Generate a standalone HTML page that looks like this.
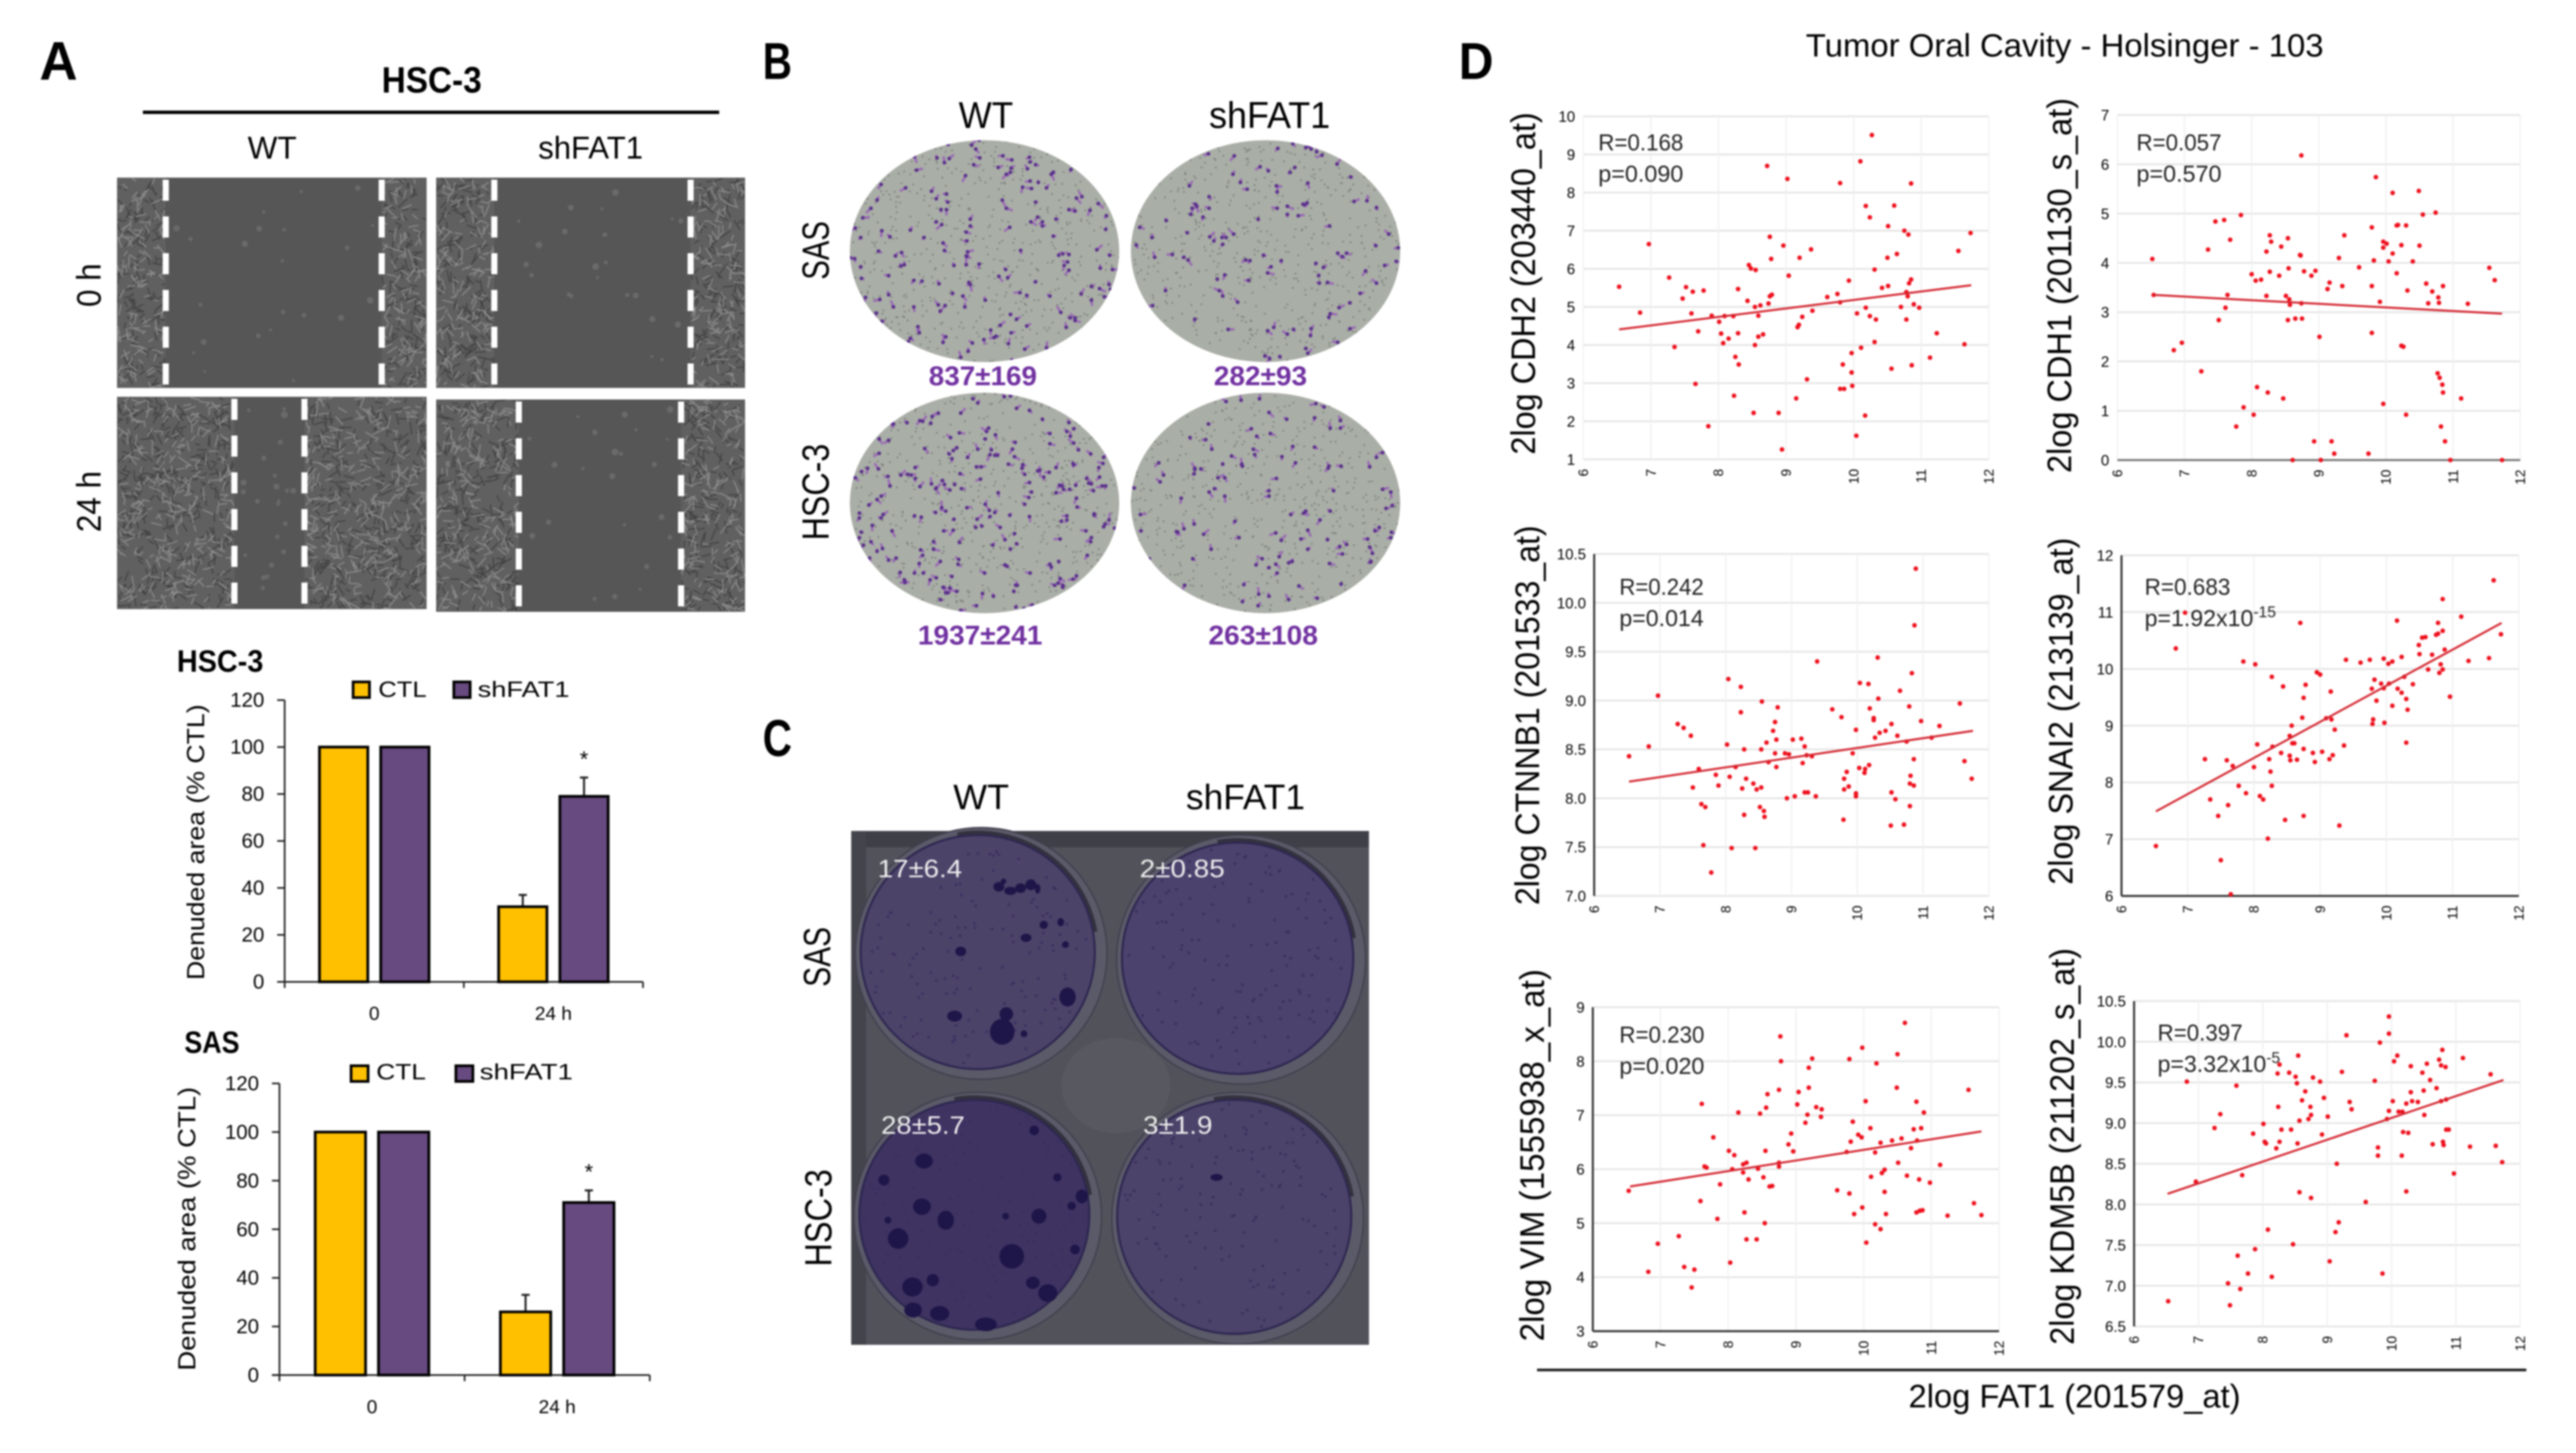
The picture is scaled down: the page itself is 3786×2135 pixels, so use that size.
<!DOCTYPE html>
<html lang="en">
<head>
<meta charset="utf-8">
<title>FAT1 knockdown migration, invasion and correlation figure</title>
<style>
html,body{margin:0;padding:0;background:#fff}
svg{display:block;filter:blur(1.2px)}
text{font-family:"Liberation Sans",sans-serif;fill:#000}
.b{font-weight:700}
.rp{font-size:34px;fill:#222}
.num{font-weight:700;font-size:40px;fill:#7030A0}
.plate{font-size:37px;fill:#eee}
</style>
</head>
<body>
<svg id="fig" width="3786" height="2135" viewBox="0 0 3786 2135">
<defs>
<clipPath id="clipB1"><ellipse cx="1447" cy="369" rx="198" ry="163"/></clipPath>
<clipPath id="clipB2"><ellipse cx="1860" cy="369" rx="198" ry="163"/></clipPath>
<clipPath id="clipB3"><ellipse cx="1447" cy="739" rx="198" ry="162"/></clipPath>
<clipPath id="clipB4"><ellipse cx="1860" cy="739" rx="198" ry="162"/></clipPath>
</defs>
<rect x="0" y="0" width="3786" height="2135" fill="#fff"/>

<!-- Panel letters -->
<text class="b" x="58" y="117" font-size="80" textLength="56" lengthAdjust="spacingAndGlyphs">A</text>
<text class="b" x="1121" y="116" font-size="76" textLength="43" lengthAdjust="spacingAndGlyphs">B</text>
<text class="b" x="1121" y="1111" font-size="76" textLength="43" lengthAdjust="spacingAndGlyphs">C</text>
<text class="b" x="2144" y="116" font-size="76" textLength="51" lengthAdjust="spacingAndGlyphs">D</text>

<!-- Panel A headings -->
<text class="b" x="561" y="136" font-size="54" textLength="147" lengthAdjust="spacingAndGlyphs">HSC-3</text>
<rect x="210" y="162.500" width="847" height="5" fill="#000"/>
<text x="364" y="233" font-size="46" textLength="72" lengthAdjust="spacingAndGlyphs">WT</text>
<text x="791" y="233" font-size="46" textLength="154" lengthAdjust="spacingAndGlyphs">shFAT1</text>
<text transform="translate(148 451) rotate(-90)" font-size="50" textLength="64" lengthAdjust="spacingAndGlyphs">0 h</text>
<text transform="translate(148 782) rotate(-90)" font-size="50" textLength="90" lengthAdjust="spacingAndGlyphs">24 h</text>
<g id="woundPanels"></g>

<!-- Bar chart 1 static labels -->
<text class="b" x="260" y="987" font-size="45" textLength="127" lengthAdjust="spacingAndGlyphs">HSC-3</text>
<rect x="519" y="1002" width="24" height="23" fill="#FFC000" stroke="#000" stroke-width="4"/>
<text x="556" y="1024" font-size="32" fill="#333" textLength="71" lengthAdjust="spacingAndGlyphs">CTL</text>
<rect x="667" y="1002" width="24" height="23" fill="#674A7F" stroke="#000" stroke-width="4"/>
<text x="702" y="1024" font-size="32" textLength="135" lengthAdjust="spacingAndGlyphs">shFAT1</text>
<text transform="translate(300 1440) rotate(-90)" font-size="36" textLength="405" lengthAdjust="spacingAndGlyphs">Denuded area (% CTL)</text>
<g id="barHsc3"></g>

<!-- Bar chart 2 static labels -->
<text class="b" x="271" y="1547" font-size="45" textLength="81" lengthAdjust="spacingAndGlyphs">SAS</text>
<rect x="516" y="1566" width="25" height="23" fill="#FFC000" stroke="#000" stroke-width="4"/>
<text x="553" y="1586" font-size="32" fill="#333" textLength="73" lengthAdjust="spacingAndGlyphs">CTL</text>
<rect x="670" y="1566" width="25" height="23" fill="#674A7F" stroke="#000" stroke-width="4"/>
<text x="705" y="1586" font-size="32" textLength="137" lengthAdjust="spacingAndGlyphs">shFAT1</text>
<text transform="translate(287 2014) rotate(-90)" font-size="36" textLength="417" lengthAdjust="spacingAndGlyphs">Denuded area (% CTL)</text>
<g id="barSas"></g>

<!-- Panel B -->
<text x="1409" y="188" font-size="55" textLength="80" lengthAdjust="spacingAndGlyphs">WT</text>
<text x="1777" y="188" font-size="55" textLength="178" lengthAdjust="spacingAndGlyphs">shFAT1</text>
<text transform="translate(1218 411) rotate(-90)" font-size="56" textLength="86" lengthAdjust="spacingAndGlyphs">SAS</text>
<text transform="translate(1218 794) rotate(-90)" font-size="56" textLength="142" lengthAdjust="spacingAndGlyphs">HSC-3</text>
<g id="transwell"></g>
<text class="num" x="1365" y="566" textLength="159" lengthAdjust="spacingAndGlyphs">837±169</text>
<text class="num" x="1784" y="566" textLength="137" lengthAdjust="spacingAndGlyphs">282±93</text>
<text class="num" x="1349" y="947" textLength="183" lengthAdjust="spacingAndGlyphs">1937±241</text>
<text class="num" x="1776" y="947" textLength="161" lengthAdjust="spacingAndGlyphs">263±108</text>

<!-- Panel C -->
<text x="1401" y="1189" font-size="52" textLength="82" lengthAdjust="spacingAndGlyphs">WT</text>
<text x="1743" y="1189" font-size="52" textLength="175" lengthAdjust="spacingAndGlyphs">shFAT1</text>
<text transform="translate(1220 1450) rotate(-90)" font-size="56" textLength="88" lengthAdjust="spacingAndGlyphs">SAS</text>
<text transform="translate(1222 1861) rotate(-90)" font-size="56" textLength="143" lengthAdjust="spacingAndGlyphs">HSC-3</text>
<g id="colonyPlate"></g>
<text class="plate" x="1290" y="1289" textLength="124" lengthAdjust="spacingAndGlyphs">17±6.4</text>
<text class="plate" x="1675" y="1289" textLength="125" lengthAdjust="spacingAndGlyphs">2±0.85</text>
<text class="plate" x="1295" y="1666" textLength="123" lengthAdjust="spacingAndGlyphs">28±5.7</text>
<text class="plate" x="1680" y="1666" textLength="102" lengthAdjust="spacingAndGlyphs">3±1.9</text>

<!-- Panel D static text -->
<text x="2654" y="83" font-size="47" fill="#222" textLength="761" lengthAdjust="spacingAndGlyphs">Tumor Oral Cavity - Holsinger - 103</text>
<rect x="2259" y="2011" width="1454" height="4" fill="#222"/>
<text x="2805" y="2068" font-size="48" fill="#222" textLength="488" lengthAdjust="spacingAndGlyphs">2log FAT1 (201579_at)</text>

<g id="scCdh2"></g>
<g id="scCdh1"></g>
<g id="scCtnnb1"></g>
<g id="scSnai2"></g>
<g id="scVim"></g>
<g id="scKdm5b"></g>

<text transform="translate(2256 668) rotate(-90)" font-size="50" fill="#222" textLength="503" lengthAdjust="spacingAndGlyphs">2log CDH2 (203440_at)</text>
<text transform="translate(3044 695) rotate(-90)" font-size="50" fill="#222" textLength="551" lengthAdjust="spacingAndGlyphs">2log CDH1 (201130_s_at)</text>
<text transform="translate(2262 1330) rotate(-90)" font-size="50" fill="#222" textLength="558" lengthAdjust="spacingAndGlyphs">2log CTNNB1 (201533_at)</text>
<text transform="translate(3046 1300) rotate(-90)" font-size="50" fill="#222" textLength="510" lengthAdjust="spacingAndGlyphs">2log SNAI2 (213139_at)</text>
<text transform="translate(2269 1971) rotate(-90)" font-size="50" fill="#222" textLength="547" lengthAdjust="spacingAndGlyphs">2log VIM (1555938_x_at)</text>
<text transform="translate(3048 1976) rotate(-90)" font-size="50" fill="#222" textLength="583" lengthAdjust="spacingAndGlyphs">2log KDM5B (211202_s_at)</text>

<text class="rp" x="2349" y="221" textLength="125" lengthAdjust="spacingAndGlyphs">R=0.168</text>
<text class="rp" x="2349" y="267" textLength="125" lengthAdjust="spacingAndGlyphs">p=0.090</text>
<text class="rp" x="3140" y="221" textLength="125" lengthAdjust="spacingAndGlyphs">R=0.057</text>
<text class="rp" x="3140" y="267" textLength="125" lengthAdjust="spacingAndGlyphs">p=0.570</text>
<text class="rp" x="2380" y="874" textLength="124" lengthAdjust="spacingAndGlyphs">R=0.242</text>
<text class="rp" x="2380" y="920" textLength="124" lengthAdjust="spacingAndGlyphs">p=0.014</text>
<text class="rp" x="3152" y="874" textLength="126" lengthAdjust="spacingAndGlyphs">R=0.683</text>
<text class="rp" x="3152" y="920">p=1.92x10<tspan font-size="23" dy="-13">-15</tspan></text>
<text class="rp" x="2380" y="1532" textLength="125" lengthAdjust="spacingAndGlyphs">R=0.230</text>
<text class="rp" x="2380" y="1578" textLength="125" lengthAdjust="spacingAndGlyphs">p=0.020</text>
<text class="rp" x="3171" y="1529" textLength="125" lengthAdjust="spacingAndGlyphs">R=0.397</text>
<text class="rp" x="3171" y="1575">p=3.32x10<tspan font-size="23" dy="-13">-5</tspan></text>
</svg>

<script>
/* ---------- bar chart data ---------- */
const barCategories = ['0', '24 h'];
const barTicks = [0, 20, 40, 60, 80, 100, 120];
const hsc3Ctl = [100, 32];
const hsc3Sh = [100, 79];
const hsc3CtlErr = [0, 5];
const hsc3ShErr = [0, 8];
const hsc3Star = [false, true];
const sasCtl = [100, 26];
const sasSh = [100, 71];
const sasCtlErr = [0, 7];
const sasShErr = [0, 5];
const sasStar = [false, true];

/* ---------- scatter data: [FAT1, gene] log2 expression ---------- */
const fat1Ticks = [6, 7, 8, 9, 10, 11, 12];
const cdh2Ticks = [1, 2, 3, 4, 5, 6, 7, 8, 9, 10];
const cdh1Ticks = [0, 1, 2, 3, 4, 5, 6, 7];
const ctnnb1Ticks = ['7.0', '7.5', '8.0', '8.5', '9.0', '9.5', '10.0', '10.5'];
const snai2Ticks = [6, 7, 8, 9, 10, 11, 12];
const vimTicks = [3, 4, 5, 6, 7, 8, 9];
const kdm5bTicks = ['6.5', '7.0', '7.5', '8.0', '8.5', '9.0', '9.5', '10.0', '10.5'];

const cdh2Trend = [[6.53, 4.41], [11.74, 5.57]];
const cdh1Trend = [[6.54, 3.35], [11.73, 2.97]];
const ctnnb1Trend = [[6.53, 8.17], [11.76, 8.69]];
const snai2Trend = [[6.52, 7.49], [11.74, 10.81]];
const vimTrend = [[6.55, 5.68], [11.74, 6.70]];
const kdm5bTrend = [[6.52, 8.13], [11.74, 9.53]];

const cdh2Points = [[6.53,5.53],[6.84,4.85],[6.97,6.65],[7.27,5.77],[7.35,3.95],[7.47,5.22],[7.52,5.52],[7.60,4.83],[7.62,5.40],[7.66,2.98],[7.70,4.36],[7.78,5.43],[7.85,1.87],[7.90,4.77],[8.01,4.61],[8.04,4.30],[8.07,4.05],[8.09,4.76],[8.15,4.17],[8.22,4.76],[8.23,2.67],[8.25,3.69],[8.29,4.31],[8.29,5.47],[8.30,3.49],[8.43,5.16],[8.45,6.10],[8.48,6.01],[8.55,5.97],[8.54,5.00],[8.62,5.04],[8.52,2.22],[8.54,4.00],[8.59,4.22],[8.59,4.77],[8.66,4.28],[8.72,8.70],[8.74,5.09],[8.76,6.84],[8.76,5.28],[8.79,5.32],[8.78,6.26],[8.89,2.22],[8.94,1.26],[8.96,6.61],[9.02,8.36],[9.04,5.82],[9.15,2.60],[9.17,4.47],[9.19,4.53],[9.20,6.29],[9.24,4.74],[9.31,3.10],[9.37,6.51],[9.39,4.90],[9.61,5.26],[9.76,5.34],[9.80,8.25],[9.80,5.12],[9.80,2.85],[9.86,2.85],[9.84,3.49],[9.93,5.69],[9.97,3.79],[9.97,3.28],[9.98,2.93],[10.04,1.62],[10.05,4.83],[10.10,8.82],[10.11,3.93],[10.17,2.15],[10.18,4.98],[10.18,7.65],[10.24,7.35],[10.24,4.76],[10.27,9.51],[10.31,5.98],[10.31,4.08],[10.33,4.67],[10.42,5.50],[10.51,5.55],[10.51,7.12],[10.50,6.29],[10.56,3.38],[10.60,7.66],[10.64,6.39],[10.70,5.00],[10.75,7.00],[10.78,4.67],[10.78,5.39],[10.81,6.90],[10.80,5.28],[10.82,5.62],[10.85,5.72],[10.85,8.24],[10.86,3.47],[10.89,5.07],[10.97,4.98],[11.13,3.67],[11.23,4.31],[11.55,6.47],[11.64,4.02],[11.73,6.94]];

const cdh1Points = [[6.52,4.08],[6.54,3.35],[6.84,2.23],[6.96,2.38],[7.25,1.80],[7.35,4.27],[7.46,4.84],[7.59,4.87],[7.51,2.84],[7.61,3.09],[7.64,3.35],[7.68,4.47],[7.77,0.68],[7.84,4.97],[7.88,1.07],[8.00,3.77],[8.03,0.92],[8.06,3.64],[8.08,1.48],[8.14,3.66],[8.22,3.33],[8.22,4.23],[8.24,1.37],[8.27,4.56],[8.29,4.43],[8.27,3.82],[8.41,3.74],[8.44,4.33],[8.47,1.25],[8.51,3.33],[8.54,4.50],[8.55,3.89],[8.54,2.84],[8.56,3.26],[8.57,3.15],[8.61,0],[8.65,2.87],[8.72,4.16],[8.73,4.15],[8.74,3.18],[8.75,2.87],[8.74,6.18],[8.78,3.83],[8.89,3.74],[8.93,0.38],[8.95,3.84],[9.01,2.50],[9.03,0],[9.13,3.47],[9.16,3.60],[9.19,0.38],[9.23,0.13],[9.30,4.10],[9.35,3.53],[9.38,4.56],[9.60,3.91],[9.74,0.13],[9.79,3.53],[9.79,2.58],[9.79,4.72],[9.82,4.05],[9.85,5.74],[9.91,3.21],[9.96,4.43],[9.96,4.31],[9.96,1.14],[10.01,4.39],[10.04,4.03],[10.10,5.42],[10.10,4.19],[10.16,4.76],[10.18,4.77],[10.16,3.79],[10.23,4.36],[10.23,2.32],[10.26,2.30],[10.30,4.76],[10.30,0.92],[10.32,3.44],[10.40,4.03],[10.49,5.46],[10.50,4.35],[10.55,4.98],[10.60,3.58],[10.63,3.18],[10.69,3.42],[10.74,5.02],[10.77,1.76],[10.78,3.30],[10.79,3.19],[10.80,1.67],[10.82,0.68],[10.84,1.53],[10.85,1.37],[10.85,3.53],[10.88,0.38],[10.96,0],[11.12,1.25],[11.22,3.17],[11.54,3.90],[11.62,3.65],[11.73,0]];

const ctnnb1Points = [[6.53,8.43],[6.83,8.53],[6.97,9.05],[7.27,8.76],[7.36,8.72],[7.47,8.64],[7.50,8.11],[7.59,8.30],[7.63,7.94],[7.66,7.52],[7.69,7.91],[7.78,7.24],[7.85,8.24],[7.89,8.13],[8.02,8.55],[8.04,9.22],[8.06,8.22],[8.09,7.49],[8.15,8.32],[8.23,8.88],[8.23,9.14],[8.25,8.10],[8.28,8.50],[8.28,7.83],[8.31,8.20],[8.42,8.15],[8.45,7.49],[8.47,8.09],[8.52,7.91],[8.54,8.11],[8.54,8.50],[8.55,8.99],[8.58,7.87],[8.59,7.81],[8.62,8.57],[8.65,8.37],[8.72,8.69],[8.75,8.78],[8.75,8.46],[8.77,8.60],[8.77,8.32],[8.79,8.93],[8.90,8.46],[8.93,8.00],[8.96,8.45],[9.02,8.60],[9.05,8.02],[9.15,8.61],[9.17,8.36],[9.20,8.53],[9.20,8.06],[9.25,8.06],[9.23,8.44],[9.31,8.43],[9.37,8.02],[9.39,9.40],[9.62,8.91],[9.76,8.83],[9.79,7.78],[9.80,8.20],[9.80,8.09],[9.84,8.27],[9.87,8.12],[9.93,8.46],[9.98,8.70],[9.98,8.05],[9.98,8.02],[10.03,8.31],[10.04,9.18],[10.12,8.30],[10.11,8.26],[10.17,9.17],[10.18,8.34],[10.19,8.92],[10.25,8.82],[10.25,8.80],[10.27,8.62],[10.31,9.44],[10.32,9.02],[10.34,8.67],[10.43,8.69],[10.51,7.72],[10.52,8.76],[10.52,8.06],[10.58,7.99],[10.61,8.64],[10.65,9.10],[10.71,7.73],[10.75,8.58],[10.79,8.94],[10.80,7.92],[10.81,8.23],[10.80,8.15],[10.83,9.28],[10.86,8.13],[10.86,8.40],[10.87,9.77],[10.89,10.35],[10.97,8.79],[11.13,8.62],[11.25,8.74],[11.56,8.97],[11.63,8.38],[11.74,8.20]];

const snai2Points = [[6.52,6.88],[6.82,10.36],[6.96,10.99],[7.26,8.41],[7.34,7.70],[7.46,7.41],[7.50,6.63],[7.59,8.39],[7.61,7.60],[7.65,6.03],[7.68,8.29],[7.77,7.94],[7.84,10.13],[7.88,7.81],[8.00,8.27],[8.02,10.08],[8.05,8.67],[8.09,7.76],[8.14,7.70],[8.21,7.01],[8.23,8.41],[8.25,8.19],[8.27,7.94],[8.27,9.86],[8.28,8.63],[8.41,8.52],[8.44,9.69],[8.47,7.34],[8.54,8.82],[8.54,8.47],[8.55,8.39],[8.57,9.00],[8.58,8.69],[8.61,8.69],[8.65,8.40],[8.70,10.81],[8.73,9.14],[8.75,9.49],[8.75,8.59],[8.75,7.41],[8.78,9.72],[8.89,8.52],[8.92,8.36],[8.95,9.94],[9.00,9.90],[9.03,8.54],[9.09,9.13],[9.14,8.41],[9.16,9.60],[9.17,9.11],[9.19,8.48],[9.22,8.93],[9.29,7.24],[9.36,8.65],[9.39,10.16],[9.61,10.11],[9.75,10.16],[9.78,9.65],[9.79,9.03],[9.80,9.11],[9.82,9.81],[9.85,9.44],[9.92,9.74],[9.96,10.18],[9.97,9.05],[9.96,9.66],[10.03,10.09],[10.04,9.74],[10.09,10.13],[10.09,9.35],[10.16,10.85],[10.17,9.65],[10.23,9.58],[10.23,10.21],[10.27,9.86],[10.30,9.47],[10.30,8.70],[10.32,9.28],[10.40,9.73],[10.49,10.42],[10.50,10.26],[10.54,10.55],[10.59,10.56],[10.63,9.99],[10.69,10.25],[10.75,10.60],[10.78,10.81],[10.78,10.62],[10.80,9.93],[10.82,10.08],[10.85,9.99],[10.85,10.67],[10.85,11.23],[10.88,10.34],[10.96,9.51],[11.13,10.92],[11.24,10.14],[11.55,10.19],[11.62,11.56],[11.73,10.61]];

const vimPoints = [[6.53,5.60],[6.82,4.10],[6.96,4.62],[7.27,4.76],[7.35,4.19],[7.46,3.81],[7.50,4.14],[7.59,5.41],[7.61,7.21],[7.65,6.05],[7.68,6.03],[7.78,6.59],[7.84,5.08],[7.88,5.72],[8.01,6.34],[8.03,4.27],[8.06,6.00],[8.09,6.26],[8.15,7.05],[8.22,6.09],[8.22,5.94],[8.24,5.20],[8.27,6.12],[8.27,4.70],[8.30,5.81],[8.42,4.70],[8.44,6.01],[8.47,7.03],[8.52,5.85],[8.54,5.00],[8.55,6.34],[8.56,7.14],[8.58,7.39],[8.61,5.68],[8.65,5.69],[8.75,6.12],[8.75,7.47],[8.75,6.05],[8.77,8.46],[8.78,8.00],[8.89,6.46],[8.93,6.66],[8.96,6.33],[9.02,7.20],[9.04,7.43],[9.14,6.86],[9.17,7.01],[9.19,7.88],[9.19,7.51],[9.24,8.05],[9.30,7.15],[9.37,6.97],[9.38,7.11],[9.61,5.61],[9.75,6.32],[9.79,5.55],[9.79,8.04],[9.81,6.51],[9.84,6.88],[9.86,5.17],[9.92,6.64],[9.97,6.59],[9.98,5.29],[9.98,8.25],[10.03,7.26],[10.04,4.64],[10.10,6.76],[10.11,5.86],[10.17,6.31],[10.17,4.98],[10.19,7.96],[10.25,4.89],[10.25,6.49],[10.27,5.93],[10.31,5.99],[10.31,5.58],[10.33,5.17],[10.42,6.53],[10.49,7.51],[10.50,8.13],[10.51,6.12],[10.56,6.57],[10.61,8.71],[10.64,5.88],[10.70,6.39],[10.74,6.74],[10.78,7.25],[10.78,5.20],[10.79,6.53],[10.82,5.81],[10.83,5.23],[10.85,6.76],[10.87,5.24],[10.89,7.05],[10.98,5.75],[11.13,6.08],[11.24,5.14],[11.55,7.47],[11.63,5.37],[11.74,5.15]];

const kdm5bPoints = [[6.53,6.81],[6.82,9.51],[6.96,8.28],[7.25,8.94],[7.34,9.11],[7.46,7.03],[7.49,6.76],[7.59,9.46],[7.61,7.37],[7.65,6.96],[7.68,8.36],[7.77,7.15],[7.85,8.87],[7.88,7.45],[8.01,8.99],[8.03,8.77],[8.05,8.75],[8.08,7.69],[8.14,7.11],[8.21,8.69],[8.23,9.61],[8.24,9.20],[8.26,8.77],[8.26,9.72],[8.29,8.92],[8.41,9.62],[8.44,8.92],[8.47,7.51],[8.51,9.57],[8.53,9.49],[8.54,8.75],[8.55,9.83],[8.57,9.03],[8.57,8.15],[8.61,9.28],[8.66,9.39],[8.71,9.05],[8.74,9.20],[8.75,9.10],[8.75,8.08],[8.78,9.56],[8.89,9.51],[8.92,8.86],[8.95,9.31],[9.01,9.08],[9.04,7.30],[9.13,7.66],[9.15,8.50],[9.18,7.78],[9.23,9.63],[9.30,10.08],[9.35,9.26],[9.38,9.17],[9.60,8.03],[9.74,9.52],[9.79,8.70],[9.79,8.60],[9.82,9.99],[9.86,7.15],[9.93,9.05],[9.96,9.15],[9.96,10.31],[9.96,10.10],[10.02,9.27],[10.04,9.76],[10.09,9.83],[10.11,9.14],[10.16,8.60],[10.17,9.14],[10.18,8.89],[10.23,8.16],[10.23,9.24],[10.26,8.88],[10.30,9.70],[10.30,9.38],[10.32,9.27],[10.41,9.26],[10.48,9.62],[10.50,9.40],[10.51,9.10],[10.55,9.73],[10.60,9.53],[10.64,8.74],[10.70,9.43],[10.74,9.78],[10.77,9.71],[10.77,9.27],[10.79,9.90],[10.80,8.77],[10.81,8.73],[10.84,9.69],[10.85,9.29],[10.85,8.92],[10.89,8.92],[10.97,8.38],[11.11,9.80],[11.22,8.71],[11.54,9.60],[11.62,8.72],[11.72,8.52]];

/* ---------- helpers ---------- */
const root = document.getElementById('fig');
const NS = root.namespaceURI;
function mk(parent, tag, attrs, txt) {
  const e = document.createElementNS(NS, tag);
  for (const k in attrs) e.setAttribute(k, attrs[k]);
  if (txt !== undefined) e.textContent = txt;
  parent.appendChild(e);
  return e;
}
function linear(d0, d1, r0, r1) {
  return v => r0 + (Number(v) - d0) * (r1 - r0) / (d1 - d0);
}
let seed = 12345;
function rnd() { seed = (seed * 16807) % 2147483647; return seed / 2147483647; }

/* ---------- bar charts ---------- */
function drawBars(g, box, ctl, sh, ctlErr, shErr, star) {
  const y = linear(0, 120, box.y0, box.y1);
  const band = (box.x1 - box.x0) / barCategories.length;
  const axisY = mk(g, 'line', {x1: box.x0, x2: box.x0, y1: box.y1, y2: box.y0, stroke: '#222', 'stroke-width': 2.5});
  
  
  const axisX = mk(g, 'line', {x1: box.x0 - 11, x2: box.x1, y1: box.y0, y2: box.y0, stroke: '#222', 'stroke-width': 2.5});
  
  
  barTicks.forEach(t => {
    mk(g, 'line', {x1: box.x0 - 11, x2: box.x0, y1: y(t), y2: y(t), stroke: '#222', 'stroke-width': 2.5});
    const lab = mk(g, 'text', {x: box.x0 - 30, y: y(t) + 10, 'text-anchor': 'end', 'font-size': 30, fill: '#333'}, String(t));
    
    
  });
  for (let i = 0; i <= barCategories.length; i++) {
    mk(g, 'line', {x1: box.x0 + i * band, x2: box.x0 + i * band, y1: box.y0, y2: box.y0 + 9, stroke: '#222', 'stroke-width': 2.5});
  }
  barCategories.forEach((c, i) => {
    const cx = box.x0 + (i + 0.5) * band;
    const lab = mk(g, 'text', {x: cx, y: box.y0 + 56, 'text-anchor': 'middle', 'font-size': 28, fill: '#333'}, c);
    
    
    [[ctl, ctlErr, '#FFC000', -1, 'bar-ctl'], [sh, shErr, '#674A7F', 1, 'bar-shfat1']].forEach(s => {
      const v = s[0][i], err = s[1][i];
      const x = cx + s[3] * box.off - box.w / 2;
      if (err > 0) {
        const whisker = mk(g, 'path', {d: 'M' + (x + box.w / 2) + ' ' + y(v) + 'V' + y(v + err) + 'm-6 0h12', stroke: '#222', 'stroke-width': 3, fill: 'none'});
        
        
      }
      const bar = mk(g, 'rect', {x: x, y: y(v), width: box.w, height: box.y0 - y(v), fill: s[2], stroke: '#000', 'stroke-width': 4});
      
      
    });
    if (star[i]) {
      const sx = cx + box.off;
      const st = mk(g, 'text', {x: sx, y: y(sh[i] + shErr[i]) - 16, 'text-anchor': 'middle', 'font-size': 32, fill: '#333'}, '*');
      
      
    }
  });
}
drawBars(document.getElementById('barHsc3'), {x0: 418.4, x1: 945, y0: 1442.7, y1: 1028.7, w: 71, off: 45}, hsc3Ctl, hsc3Sh, hsc3CtlErr, hsc3ShErr, hsc3Star);
drawBars(document.getElementById('barSas'), {x0: 410.7, x1: 955, y0: 2020.5, y1: 1592, w: 74, off: 46.5}, sasCtl, sasSh, sasCtlErr, sasShErr, sasStar);

/* ---------- scatter plots ---------- */
function drawScatter(g, box, xDomain, yDomain, yTicks, pts, trend, opt) {
  const x = linear(xDomain[0], xDomain[1], box.x0, box.x1);
  const y = linear(yDomain[0], yDomain[1], box.y0, box.y1);
  yTicks.forEach(t => {
    const grid = mk(g, 'line', {x1: box.x0, x2: box.x1, y1: y(t), y2: y(t), stroke: '#e4e4e4', 'stroke-width': 2.5});
    
    
    const lab = mk(g, 'text', {x: box.x0 - 12, y: y(t) + 8, 'text-anchor': 'end', 'font-size': 22, fill: '#808080'}, String(t));
    
    
  });
  fat1Ticks.forEach(t => {
    const grid = mk(g, 'line', {x1: x(t), x2: x(t), y1: box.y0, y2: box.y1, stroke: '#f0f0f0', 'stroke-width': 2});
    
    
    const lab = mk(g, 'text', {transform: 'translate(' + (x(t) + 7) + ' ' + (box.y0 + 14) + ') rotate(-90)', 'text-anchor': 'end', 'font-size': 20, fill: '#808080'}, String(t));
    
    
  });
  if (opt.yAxis) {
    const axisY = mk(g, 'line', {x1: box.x0, x2: box.x0, y1: box.y0, y2: box.y1, stroke: '#333', 'stroke-width': 3});
    
    
  }
  if (opt.xAxis) {
    const axisX = mk(g, 'line', {x1: box.x0, x2: box.x1, y1: box.y0, y2: box.y0, stroke: opt.xAxis, 'stroke-width': 3});
    
    
  }
  pts.forEach(p => {
    const c = mk(g, 'circle', {cx: x(p[0]), cy: y(p[1]), r: 3.4, fill: '#ee0f1c'});
    
    
  });
  const tl = mk(g, 'line', {x1: x(trend[0][0]), y1: y(trend[0][1]), x2: x(trend[1][0]), y2: y(trend[1][1]), stroke: '#d42630', 'stroke-width': 3});
  
  
}
drawScatter(document.getElementById('scCdh2'), {x0: 2327, x1: 2923, y0: 675, y1: 171}, [6, 12], [1, 10], cdh2Ticks, cdh2Points, cdh2Trend, {});
drawScatter(document.getElementById('scCdh1'), {x0: 3112, x1: 3704, y0: 676, y1: 169}, [6, 12], [0, 7], cdh1Ticks, cdh1Points, cdh1Trend, {xAxis: '#777'});
drawScatter(document.getElementById('scCtnnb1'), {x0: 2343, x1: 2923, y0: 1316.5, y1: 814}, [6, 12], [7, 10.5], ctnnb1Ticks, ctnnb1Points, ctnnb1Trend, {yAxis: true});
drawScatter(document.getElementById('scSnai2'), {x0: 3118, x1: 3702, y0: 1316.5, y1: 816}, [6, 12], [6, 12], snai2Ticks, snai2Points, snai2Trend, {yAxis: true, xAxis: '#333'});
drawScatter(document.getElementById('scVim'), {x0: 2341, x1: 2938, y0: 1956, y1: 1480}, [6, 12], [3, 9], vimTicks, vimPoints, vimTrend, {yAxis: true, xAxis: '#333'});
drawScatter(document.getElementById('scKdm5b'), {x0: 3136.5, x1: 3704, y0: 1949, y1: 1471}, [6, 12], [6.5, 10.5], kdm5bTicks, kdm5bPoints, kdm5bTrend, {yAxis: true});

/* ---------- wound-healing micrographs (decorative photo texture) ---------- */
function cellStrokes(g, x0, x1, y0, y1) {
  const n = Math.round((x1 - x0) * (y1 - y0) / 85);
  let lite = '', dark = '';
  for (let i = 0; i < n; i++) {
    const a = rnd() * 6.283, l = 7 + rnd() * 12;
    const px = x0 + 2 + rnd() * (x1 - x0 - 4), py = y0 + 2 + rnd() * (y1 - y0 - 4);
    const ex = Math.min(x1 - 1, Math.max(x0 + 1, px + Math.cos(a) * l));
    const ey = Math.min(y1 - 1, Math.max(y0 + 1, py + Math.sin(a) * l));
    const s = 'M' + px.toFixed(0) + ' ' + py.toFixed(0) + 'L' + ex.toFixed(0) + ' ' + ey.toFixed(0);
    if (i % 2) lite += s; else dark += s;
  }
  const t = mk(g, 'rect', {x: x0, y: y0, width: x1 - x0, height: y1 - y0, fill: '#606060'});
  
  
  mk(g, 'path', {d: dark, stroke: '#434343', 'stroke-width': 1.8, fill: 'none'});
  mk(g, 'path', {d: lite, stroke: '#8a8a8a', 'stroke-width': 1.8, fill: 'none'});
}
function woundPanel(g, name, x0, x1, y0, y1, a, b) {
  const p = mk(g, 'g', {});
  
  
  mk(p, 'rect', {x: x0, y: y0, width: x1 - x0, height: y1 - y0, fill: '#565656'});
  cellStrokes(p, x0, a, y0, y1);
  cellStrokes(p, b, x1, y0, y1);
  for (let i = 0; i < 22; i++) {
    mk(p, 'circle', {cx: a + 12 + rnd() * (b - a - 24), cy: y0 + 10 + rnd() * (y1 - y0 - 20), r: 2 + rnd() * 3, fill: '#6a6a6a'});
  }
  [a, b].forEach(v => {
    const d = mk(p, 'line', {x1: v, x2: v, y1: y0 + 3, y2: y1, stroke: '#fff', 'stroke-width': 9, 'stroke-dasharray': '31 23'});
    
    
  });
}
const wg = document.getElementById('woundPanels');
woundPanel(wg, 'micrograph-wt-0h', 172, 627, 261, 570, 243.6, 561);
woundPanel(wg, 'micrograph-shfat1-0h', 641, 1095, 261, 570, 726.5, 1015);
woundPanel(wg, 'micrograph-wt-24h', 172, 627, 583, 895, 344.5, 447.5);
woundPanel(wg, 'micrograph-shfat1-24h', 641, 1095, 587, 899, 762.5, 1001);

/* ---------- transwell membranes (decorative photo texture) ---------- */
function membrane(g, name, clip, cx, cy, rx, ry, cells) {
  const m = mk(g, 'g', {'clip-path': 'url(#' + clip + ')'});
  
  
  mk(m, 'ellipse', {cx: cx, cy: cy, rx: rx, ry: ry, fill: '#a9aea6'});
  let grey = '', mauve = '', core = '';
  for (let i = 0; i < 480; i++) {
    const a = rnd() * 6.283, r = Math.sqrt(rnd());
    grey += 'M' + (cx + Math.cos(a) * r * rx).toFixed(0) + ' ' + (cy + Math.sin(a) * r * ry).toFixed(0) + 'h.1';
  }
  for (let i = 0; i < cells; i++) {
    const a = rnd() * 6.283, r = Math.sqrt(rnd()), t = rnd() * 6.283, l = 2 + rnd() * 7;
    const px = cx + Math.cos(a) * r * rx, py = cy + Math.sin(a) * r * ry;
    mauve += 'M' + px.toFixed(0) + ' ' + py.toFixed(0) + 'l' + (Math.cos(t) * l).toFixed(0) + ' ' + (Math.sin(t) * l).toFixed(0);
    core += 'M' + px.toFixed(0) + ' ' + py.toFixed(0) + 'h.1';
  }
  mk(m, 'path', {d: grey, stroke: '#7b807c', 'stroke-width': 2.6, 'stroke-linecap': 'round', fill: 'none'});
  mk(m, 'path', {d: mauve, stroke: '#9a6cb4', 'stroke-width': 3.5, 'stroke-linecap': 'round', fill: 'none'});
  mk(m, 'path', {d: core, stroke: '#5a2f8c', 'stroke-width': 5.5, 'stroke-linecap': 'round', fill: 'none'});
}
const tg = document.getElementById('transwell');
membrane(tg, 'membrane-sas-wt', 'clipB1', 1447, 369, 198, 163, 160);
membrane(tg, 'membrane-sas-shfat1', 'clipB2', 1860, 369, 198, 163, 105);
membrane(tg, 'membrane-hsc3-wt', 'clipB3', 1447, 739, 198, 162, 210);
membrane(tg, 'membrane-hsc3-shfat1', 'clipB4', 1860, 739, 198, 162, 110);

/* ---------- colony plate (photo stand-in) ---------- */
const cg = document.getElementById('colonyPlate');
const plateBody = mk(cg, 'rect', {x: 1251, y: 1221, width: 761, height: 755, fill: '#52525b'});


const topBand = mk(cg, 'rect', {x: 1251, y: 1221, width: 761, height: 24, fill: '#3f3f47'});


const leftBand = mk(cg, 'rect', {x: 1251, y: 1221, width: 22, height: 755, fill: '#44444c'});


const centreGap = mk(cg, 'ellipse', {cx: 1640, cy: 1595, rx: 80, ry: 70, fill: '#585860'});


[[1437, 1399, 172, '#4c4369', 'well-sas-wt'], [1819, 1408, 170, '#4b426d', 'well-sas-shfat1'], [1432, 1785, 169, '#3e3361', 'well-hsc3-wt'], [1814, 1788, 172, '#4b4369', 'well-hsc3-shfat1']].forEach(w => {
  mk(cg, 'circle', {cx: w[0] + 5, cy: w[1] + 2, r: w[2] + 13, fill: '#5b5a69', stroke: '#3f3d4b', 'stroke-width': 2});
  const well = mk(cg, 'circle', {cx: w[0], cy: w[1], r: w[2], fill: w[3], stroke: '#2d2650', 'stroke-width': 3});
  
  
  const R = w[2] + 4;
  const rim = mk(cg, 'path', {d: 'M' + (w[0] - R * 0.17) + ' ' + (w[1] - R * 0.985) + 'A' + R + ' ' + R + ' 0 0 1 ' + (w[0] + R * 0.985) + ' ' + (w[1] - R * 0.17), stroke: '#33313e', 'stroke-width': 5, fill: 'none'});
  
  
  let sp = '';
  for (let i = 0; i < 140; i++) {
    const a = rnd() * 6.283, r = Math.sqrt(rnd()) * (w[2] - 6);
    sp += 'M' + (w[0] + Math.cos(a) * r).toFixed(0) + ' ' + (w[1] + Math.sin(a) * r).toFixed(0) + 'h.1';
  }
  mk(cg, 'path', {d: sp, stroke: '#3a3060', 'stroke-width': 4, 'stroke-linecap': 'round', fill: 'none'});
});
[[1468,1303,8,7],[1485,1309,9,6],[1500,1305,8,7],[1515,1300,8,8],[1525,1306,4,7],[1475,1295,4,4],[1412,1398,8,7],[1534,1359,6,6],[1559,1355,5,6],[1508,1378,8,6],[1566,1388,5,5],[1569,1465,12,14],[1403,1493,11,8],[1473,1516,18,19],[1479,1490,10,10],[1505,1519,5,5],
 [1358,1706,13,11],[1299,1734,8,8],[1355,1773,13,12],[1390,1793,12,14],[1320,1820,15,15],[1527,1787,11,11],[1487,1846,18,18],[1341,1891,15,14],[1371,1881,9,9],[1518,1885,10,9],[1540,1900,14,13],[1342,1925,13,11],[1381,1930,14,11],[1449,1946,16,10],[1520,1661,7,7],[1554,1730,6,6],[1590,1758,9,10],[1575,1772,6,6],[1580,1836,7,7],[1478,1787,5,5],[1305,1793,5,5],
 [1788,1730,9,5]].forEach(c => {
  const col = mk(cg, 'ellipse', {cx: c[0], cy: c[1], rx: c[2], ry: c[3], fill: '#1e1548'});
  
  
});
</script>
</body>
</html>
